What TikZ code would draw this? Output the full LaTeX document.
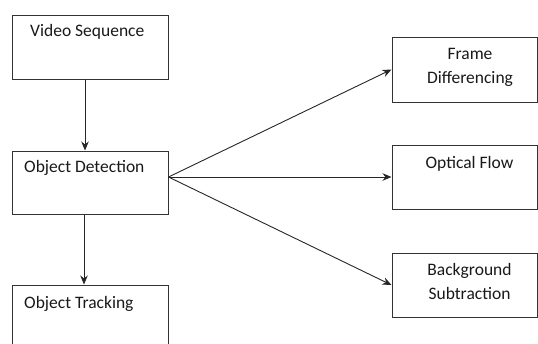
\documentclass[tikz,border=0pt]{standalone}
\usepackage{fontspec}
\setmainfont{Carlito}
\usetikzlibrary{arrows.meta}

\begin{document}
\begin{tikzpicture}[x=1pt, y=-1pt, >={Stealth[length=9pt,width=7.5pt]},
	box/.style={draw=black!80, line width=1pt, inner sep=0pt, minimum width=156pt, minimum height=64pt},
	sidebox/.style={box, minimum width=145pt},
	lbl/.style={inner sep=0pt, font=\fontsize{17.5}{24}\selectfont, text=black!90},
	link/.style={->, line width=0.9pt, draw=black!85}]
	
	% page frame, the tracking block runs off the bottom
	\useasboundingbox (0,0) rectangle (538,343);
	\clip (0,0) rectangle (538,343);
	
	% main chain on the left
	\node[box] (vid) at (90,47) {};
	\node[box, minimum height=63pt] (det) at (90,182.5) {};
	\node[box] (trk) at (90,317) {};
	
	% methods on the right
	\node[sidebox, minimum height=65pt] (fd) at (464.5,69.5) {};
	\node[sidebox] (of) at (464.5,177) {};
	\node[sidebox] (bs) at (464.5,285) {};
	
	% block texts
	\node[lbl, anchor=base west] (vidtxt) at (30,36.5) {Video Sequence};
	\node[lbl, anchor=base west] (dettxt) at (24,172.5) {Object Detection};
	\node[lbl, anchor=base west] (trktxt) at (24,308) {Object Tracking};
	\node[lbl, anchor=north, align=center] (fdtxt) at (470,48) {Frame\\Differencing};
	\node[lbl, anchor=base] (oftxt) at (469.5,168) {Optical Flow};
	\node[lbl, anchor=north, align=center] (bstxt) at (469.5,263) {Background\\Subtraction};
	
	% arrows down the chain
	\draw[link] ([xshift=-5pt]vid.south) -- ([xshift=-5pt]det.north);
	\draw[link] ([xshift=-6pt]det.south) -- ([xshift=-6pt]trk.north);
	
	% fan out to the three methods
	\coordinate (fan) at ([yshift=5.5pt]det.east);
	\draw[link] (fan) -- (fd.west);
	\draw[link] (fan) -- (of.west);
	\draw[link] (fan) -- (bs.west);
	
\end{tikzpicture}
\end{document}
